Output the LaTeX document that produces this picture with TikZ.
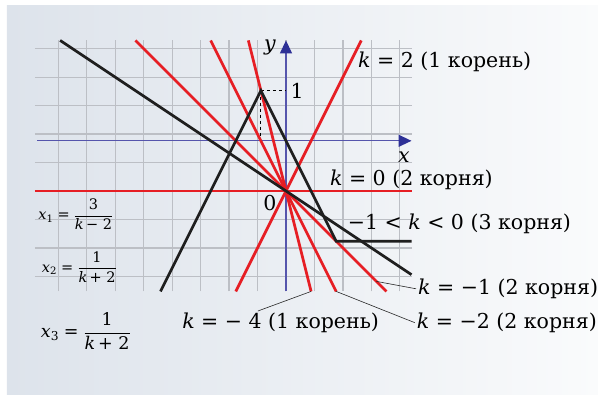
\RequirePackage{fix-cm}
\documentclass[tikz,border=0pt]{standalone}
\usepackage{amsmath}
\usepackage{fontspec}
\setmainfont{DejaVu Serif}
\usetikzlibrary{arrows.meta,positioning,calc}
\definecolor{plotred}{RGB}{230,30,36}
\definecolor{axisblue}{RGB}{85,85,172}
\definecolor{axistip}{RGB}{45,48,150}
\definecolor{gridgray}{RGB}{188,191,197}
\definecolor{panelleft}{RGB}{221,227,235}
\definecolor{panelright}{RGB}{250,251,252}
\newcommand{\kvar}{\textit{k}}
\newcommand{\rootfrac}[3]{$\textit{x}_{\text{#1}}\mathrel{\text{=}}\dfrac{\text{#2}}{\text{\kvar\,#3}}$}
\tikzset{
  gridline/.style={draw=gridgray, line width=1.3pt},
  axisline/.style={-{Triangle[length=13pt,width=12pt,color=axistip]}, draw=axisblue, line width=1.3pt},
  redline/.style={draw=plotred, line width=2.7pt},
  graphline/.style={draw=black!88, line width=2.7pt},
  guide/.style={draw=black, dashed, line width=0.8pt},
  leader/.style={draw=black!85, line width=0.6pt},
  lbl/.style={inner sep=2pt, font=\fontsize{20.5}{24}\selectfont},
  fraclbl/.style={inner sep=0pt, font=\fontsize{14.5}{17}\selectfont}
}

\begin{document}
\begin{tikzpicture}[x=25.1pt,y=25.1pt]
  \useasboundingbox (-11.394,-8.088) rectangle (12.430,7.610);
  \shade[left color=panelleft, right color=panelright] (-11.116,-8.088) rectangle (12.430,7.371);
  % grid and axes
  \draw[gridline] (-10,-4) grid (5,6);
  \draw[axisline] (-9.9,2) -- (5,2);
  \draw[axisline] (0,-4) -- (0,6);
  \draw[guide] (-1,4) -- (0,4);
  \draw[guide] (-1,4) -- (-1,2);
  % lines y = kx
  \draw[redline] (-10,0) -- (5,0);
  \draw[redline] (-2,-4) -- (3,6);
  \draw[redline] (-6,6) -- (4,-4);
  \draw[redline] (-3,6) -- (2,-4);
  \draw[redline] (-1.5,6) -- (1,-4);
  % graph
  \draw[graphline] (-9,6) -- (5,-10/3);
  \draw[graphline, line join=miter] (-5,-4) -- (-1,4) -- (2,-2) -- (5,-2);
  % axis labels
  \node[lbl] (ylab) at (-0.64,5.70) {\textit{y}};
  \node[lbl] (xlab) at (4.70,1.35) {\textit{x}};
  \node[lbl] (one) at (0.44,3.98) {1};
  \node[lbl] (zero) at (-0.64,-0.48) {0};
  % k labels
  \node[lbl, anchor=base west] (lk2) at (2.79,4.94) {\kvar{} = 2 (1 корень)};
  \node[lbl, anchor=base west] (lk0) at (1.67,0.21) {\kvar{} = 0 (2 корня)};
  \node[lbl, anchor=base west] (lkm) at (2.38,-1.55) {−1 < \kvar{} < 0 (3 корня)};
  \node[lbl, anchor=base west] (lm1) at (5.18,-4.12) {\kvar{} = −1 (2 корня)};
  \node[lbl, anchor=base west] (lm2) at (5.13,-5.47) {\kvar{} = −2 (2 корня)};
  \node[lbl, anchor=base west] (lm4) at (-4.22,-5.47) {\kvar{} = − 4 (1 корень)};
  % roots
  \node[fraclbl, anchor=west] (xa) at (-9.87,-0.93) {\rootfrac{1}{3}{− 2}};
  \node[fraclbl, anchor=west] (xb) at (-9.73,-3.02) {\rootfrac{2}{1}{+ 2}};
  \node[fraclbl, anchor=west, font=\fontsize{17.5}{21}\selectfont] (xc) at (-9.77,-5.57) {\rootfrac{3}{1}{+ 2}};
  % leaders
  \coordinate (e1) at (3.6,-3.6);
  \coordinate (e2) at (2,-4);
  \coordinate (e4) at (1,-4);
  \coordinate (t4) at (-1.12,-4.78);
  \draw[leader] (e1) -- (lm1.west);
  \draw[leader] (e2) -- (lm2.west);
  \draw[leader] (e4) -- (t4);
\end{tikzpicture}
\end{document}
